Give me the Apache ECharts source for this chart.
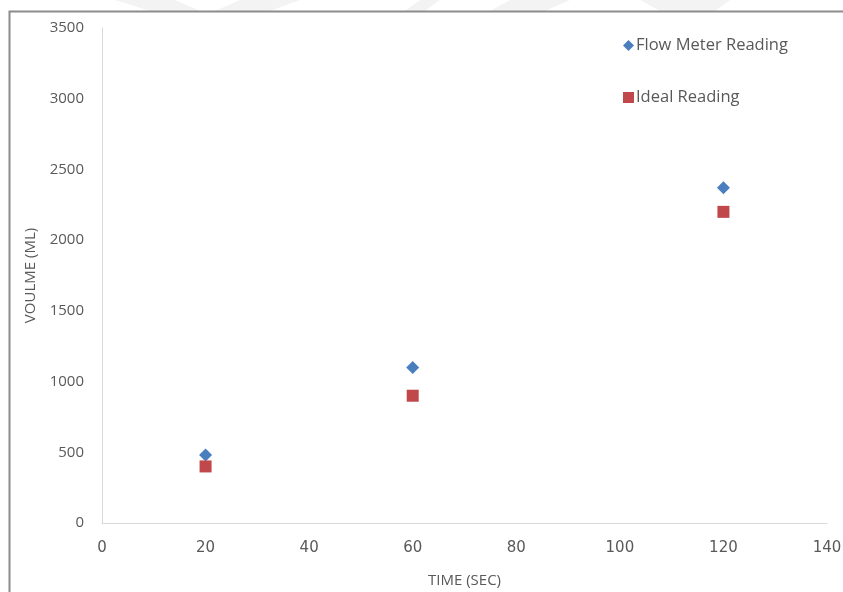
<!DOCTYPE html>
<html><head><meta charset="utf-8">
<script src="https://cdn.jsdelivr.net/npm/echarts@6/dist/echarts.min.js"></script>
<style>html,body{margin:0;padding:0;background:#fff}#c{width:843px;height:592px}</style>
</head><body><div id="c"></div>
<script>
const times = [20, 60, 120];
const flowMeter = [480, 1100, 2370];
const idealReading = [400, 900, 2200];
const seriesNames = ['Flow Meter Reading', 'Ideal Reading'];
const xAxisName = 'TIME (SEC)';
const yAxisName = 'VOULME (ML)';

const chart = echarts.init(document.getElementById('c'));
const font = 'Open Sans, sans-serif';
const gray = '#595959';
chart.setOption({
  animation: false,
  graphic: [
    {type:'polygon', silent:true, shape:{points:[[115,0],[175,0],[200,11],[150,11]]}, style:{fill:'#f3f3f3'}},
    {type:'polygon', silent:true, shape:{points:[[240,0],[300,0],[270,11],[215,11]]}, style:{fill:'#f3f3f3'}},
    {type:'polygon', silent:true, shape:{points:[[510,0],[570,0],[545,11],[490,11]]}, style:{fill:'#f3f3f3'}},
    {type:'polygon', silent:true, shape:{points:[[640,0],[730,0],[715,11],[660,11]]}, style:{fill:'#f3f3f3'}},
    {type:'polygon', silent:true, shape:{points:[[420,0],[440,0],[425,11],[405,11]]}, style:{fill:'#f3f3f3'}},
    {type:'rect', silent:true, shape:{x:9.5, y:11.5, width:840, height:600}, style:{fill:'none', stroke:'#8c8c8c', lineWidth:2}}
  ],
  grid: {left: 102, right: 16, top: 28, bottom: 69, containLabel: false, outerBoundsMode: 'none'},
  legend: {
    orient: 'vertical', left: 618, top: 32, itemGap: 35,
    itemWidth: 11, itemHeight: 11,
    textStyle: {color: gray, fontSize: 16.5, fontFamily: font, padding: [0, 0, 0, -3]},
    data: [{name: seriesNames[0], icon: 'diamond'}, {name: seriesNames[1], icon: 'rect'}]
  },
  xAxis: {
    type: 'value', min: 0, max: 140, interval: 20,
    name: xAxisName, nameLocation: 'middle', nameGap: 50,
    nameTextStyle: {color: gray, fontSize: 15, fontFamily: font},
    axisLine: {show: true, lineStyle: {color: '#d9d9d9'}},
    axisTick: {show: false},
    splitLine: {show: false},
    axisLabel: {color: gray, fontSize: 15, margin: 18, fontFamily: 'DejaVu Sans, sans-serif'}
  },
  yAxis: {
    type: 'value', min: 0, max: 3500, interval: 500,
    name: yAxisName, nameLocation: 'middle', nameGap: 64, nameRotate: 90,
    nameTextStyle: {color: gray, fontSize: 15, fontFamily: font},
    axisLine: {show: true, lineStyle: {color: '#d9d9d9'}},
    axisTick: {show: false},
    splitLine: {show: false},
    axisLabel: {color: gray, fontSize: 15, margin: 18, fontFamily: font, formatter: v => String(v)}
  },
  series: [
    {name: seriesNames[0], type: 'scatter', symbol: 'diamond', symbolSize: 13,
     itemStyle: {color: '#4a7ebf', opacity: 1}, data: times.map((t, i) => [t, flowMeter[i]])},
    {name: seriesNames[1], type: 'scatter', symbol: 'rect', symbolSize: 12,
     itemStyle: {color: '#c0474a', opacity: 1}, data: times.map((t, i) => [t, idealReading[i]])}
  ]
});
</script></body></html>
